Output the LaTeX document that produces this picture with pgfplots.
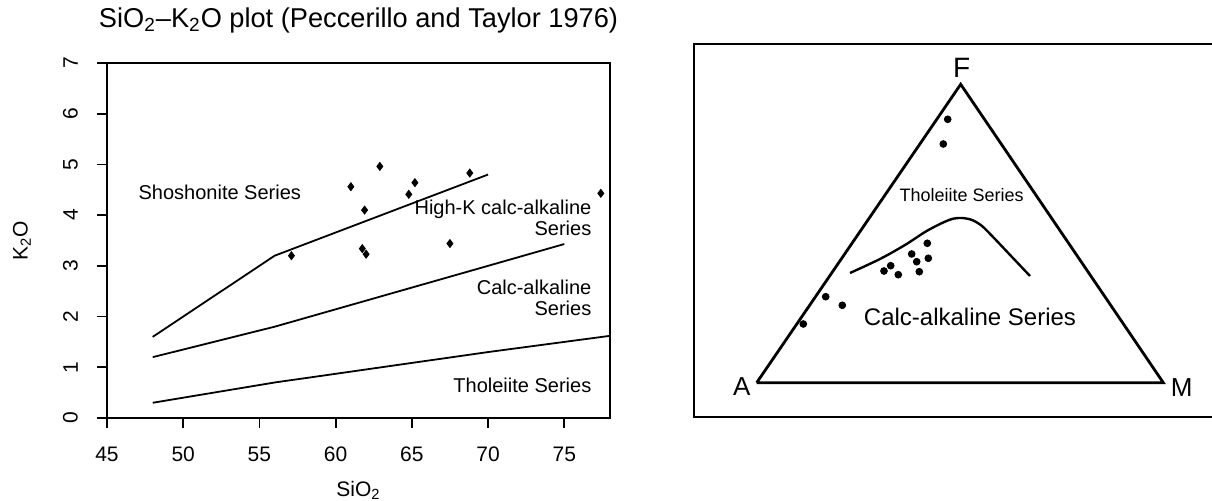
\documentclass[border=0pt]{standalone}
\usepackage{fontspec}
\setmainfont{Liberation Sans}
\usepackage{pgfplots}
\pgfplotsset{compat=1.18}
\begin{document}
\begin{tikzpicture}[x=1pt,y=1pt]
\useasboundingbox (0,0) rectangle (606,250.5);
\begin{axis}[
  at={(53.5pt,41.5pt)}, anchor=south west,
  scale only axis, width=251.5pt, height=177.5pt,
  xmin=45, xmax=78, ymin=0, ymax=7,
  xtick={45,50,...,75}, ytick={0,1,...,7},
  tick align=outside, xtick pos=bottom, ytick pos=left,
  major tick length=5pt,
  tick style={line width=0.9pt, black},
  axis line style={line width=0.9pt},
  /pgf/number format/assume math mode=true,
  ticklabel style={font=\fontsize{10.5}{12}\selectfont},
  xticklabel shift=6pt, yticklabel shift=6pt,
  yticklabel style={rotate=90, anchor=south},
  xlabel={SiO\textsubscript{2}}, ylabel={K\textsubscript{2}O},
  label style={font=\fontsize{10.5}{12}\selectfont},
  xlabel style={at={(axis description cs:0.5,-0.203)}, anchor=center},
  ylabel style={at={(axis description cs:-0.169,0.5)}, anchor=center},
  clip=false,
]
\addplot[black, line width=0.9pt] coordinates {(48,0.3)(52,0.5)(56,0.7)(63,1.0)(70,1.3)(78,1.62)};
\addplot[black, line width=0.9pt] coordinates {(48,1.2)(52,1.5)(56,1.8)(63,2.4)(70,3.0)(75,3.43)};
\addplot[black, line width=0.9pt] coordinates {(48,1.6)(52,2.4)(56,3.2)(63,4.0)(70,4.8)};
\addplot[only marks, mark=diamond*, mark size=2pt, black] coordinates {
(57.1,3.20)(62.9,4.96)(61.0,4.56)(65.2,4.64)(64.8,4.41)(61.9,4.10)
(68.8,4.83)(61.75,3.34)(62.0,3.23)(67.5,3.44)(77.4,4.43)};
\node[font=\fontsize{10}{12}\selectfont] at (axis cs:52.4,4.44) {Shoshonite Series};
\node[font=\fontsize{10}{10.5}\selectfont, anchor=east, align=right, inner sep=0pt] at (axis cs:76.8,3.945) {High-K calc-alkaline\\Series};
\node[font=\fontsize{10}{10.5}\selectfont, anchor=east, align=right, inner sep=0pt] at (axis cs:76.8,2.375) {Calc-alkaline\\Series};
\node[font=\fontsize{10}{12}\selectfont, anchor=east, inner sep=0pt] at (axis cs:76.8,0.65) {Tholeiite Series};
\node[font=\fontsize{13.6}{15}\selectfont] at (axis description cs:0.5,1.121) {SiO\textsubscript{2}–K\textsubscript{2}O plot (Peccerillo and Taylor 1976)};
\end{axis}
\begin{axis}[
  at={(347pt,42pt)}, anchor=south west,
  scale only axis, width=260pt, height=186.5pt,
  xmin=694, xmax=1214, ymin=44, ymax=417, y dir=reverse,
  xtick=\empty, ytick=\empty,
  axis line style={line width=1pt},
  clip=false,
]
\addplot[black, line width=1.4pt, line join=miter] coordinates {(756.7,382.7)(960.7,84.3)(1163.3,382.7)(756.7,382.7)};
\addplot[black, line width=1.2pt, smooth] coordinates {(850,273)(880,259)(905,245)(925,232)(940,224)(952,219)(962,218)(972,220)(982,226)(994,238)(1012,257)(1030,276)};
\addplot[only marks, mark=*, mark size=1.7pt, black] coordinates {
(947.7,119.3)(943.3,144)(825.7,296.7)(842.3,305.3)(803.3,324)
(884,271)(890.7,265.7)(898.3,274.7)(911.7,254)(919.3,271.7)
(927.3,243.3)(928.3,258.3)(916.7,261.7)};
\node[font=\fontsize{14}{16}\selectfont] at (axis cs:961.7,68) {F};
\node[font=\fontsize{13}{15}\selectfont] at (axis cs:741.7,386.7) {A};
\node[font=\fontsize{13}{15}\selectfont] at (axis cs:1181.7,388) {M};
\node[font=\fontsize{9}{11}\selectfont] at (axis cs:961.7,195) {Tholeiite Series};
\node[font=\fontsize{12}{14}\selectfont] at (axis cs:970,317) {Calc-alkaline Series};
\end{axis}
\end{tikzpicture}
\end{document}
